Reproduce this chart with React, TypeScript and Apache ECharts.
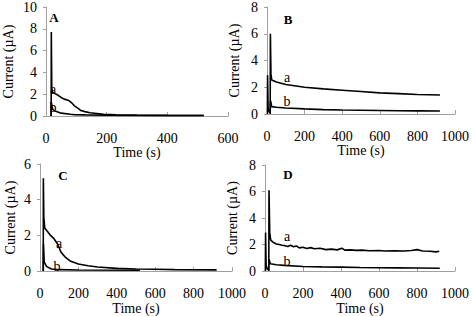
import React, { useEffect, useRef } from "react";
import * as echarts from "echarts";

const panelLetters = ["A", "B", "C", "D"];
const xMaxes = [600, 1000, 1000, 1000];
const yMaxes = [10, 8, 6, 8];

const aA: number[][] = [[17,0],[17.5,7.7],[19,2.6],[21,2.2],[30,2.05],[40,1.9],[50,1.7],[60,1.55],[73,1.45],[85,1.2],[95,0.9],[106,0.7],[115,0.5],[128,0.4],[145,0.3],[160,0.25],[190,0.15],[230,0.1],[300,0.08],[400,0.06],[520,0.05]];
const bA: number[][] = [[17,0],[18,1.2],[22,0.6],[30,0.45],[50,0.26],[80,0.16],[95,0.12],[130,0.1],[200,0.07],[300,0.05],[520,0.04]];

const aB: number[][] = [[17,0],[18,6.0],[21,3.0],[25,2.55],[50,2.4],[100,2.2],[200,2.0],[300,1.88],[400,1.78],[500,1.68],[600,1.58],[700,1.52],[800,1.46],[920,1.42]];
const bB: number[][] = [[2,0],[3,2.9],[6,0.4],[12,0.15],[17,0.1],[19,1.0],[25,0.55],[50,0.5],[100,0.45],[200,0.38],[300,0.33],[400,0.3],[500,0.28],[600,0.26],[700,0.24],[800,0.23],[920,0.22]];

const aC: number[][] = [[17,0],[17.5,5.2],[20,3.0],[25,2.4],[40,2.2],[55,2.0],[70,1.85],[90,1.55],[110,1.05],[130,0.8],[160,0.55],[200,0.4],[250,0.3],[300,0.23],[400,0.15],[500,0.12],[600,0.1],[700,0.08],[920,0.07]];
const bC: number[][] = [[17,0],[18,1.5],[22,0.5],[35,0.25],[60,0.12],[100,0.08],[200,0.06],[520,0.05]];

const aD: number[][] = [[20,0],[21,6.1],[25,2.9],[30,2.35],[40,2.2],[50,2.12],[60,2.05],[75,2.0],[90,1.95],[105,1.92],[120,1.85],[135,1.95],[150,1.84],[165,1.9],[180,1.75],[200,1.8],[220,1.7],[240,1.77],[260,1.68],[290,1.72],[320,1.62],[350,1.66],[380,1.6],[405,1.72],[420,1.58],[450,1.6],[480,1.56],[510,1.58],[550,1.54],[600,1.55],[630,1.52],[680,1.54],[730,1.52],[770,1.55],[800,1.62],[830,1.52],[870,1.5],[900,1.45],[917,1.5]];
const bD: number[][] = [[2,0],[3,2.9],[6,0.4],[12,0.15],[19,0.1],[21,0.9],[28,0.55],[60,0.48],[100,0.43],[200,0.35],[300,0.32],[400,0.3],[500,0.27],[600,0.25],[700,0.24],[800,0.23],[920,0.22]];

const seriesA = [aA, aB, aC, aD];
const seriesB = [bA, bB, bC, bD];

const grids = [
  { left: 38, top: 7, width: 190, height: 109 },
  { left: 267, top: 5, width: 190, height: 109 },
  { left: 40, top: 164, width: 192, height: 109 },
  { left: 265, top: 165, width: 192, height: 107 },
];
const yNameGaps = [31, 26, 23, 26];
const xNameGaps = [27, 27, 28, 29];
const letterPos = [[54, 17], [288, 19], [63, 175], [288, 174]];
const aPos = [[53, 89], [287, 77], [59, 243], [287, 236]];
const bPos = [[53, 107], [287, 101], [57, 266], [287, 261]];

const FONT = "'Liberation Serif', 'Times New Roman', serif";

export default function App() {
  const ref = useRef<HTMLDivElement>(null);
  useEffect(() => {
    if (!ref.current) return;
    const chart = echarts.init(ref.current, undefined, { renderer: "svg" });
    const axisLine = { lineStyle: { color: "#a0a0a0", width: 1 } };
    const xAxis = grids.map((_, i) => ({
      type: "value",
      gridIndex: i,
      min: 0,
      max: xMaxes[i],
      interval: 200,
      name: "Time (s)",
      nameLocation: "middle",
      nameGap: xNameGaps[i],
      nameTextStyle: { fontFamily: FONT, fontSize: 14, color: "#000" },
      axisLine,
      axisTick: { show: true, inside: true, length: 4, lineStyle: { color: "#a0a0a0" } },
      axisLabel: { fontFamily: FONT, fontSize: 14, color: "#000", margin: 15, formatter: (v: number) => String(v) },
      splitLine: { show: false },
    }));
    const yAxis = grids.map((_, i) => ({
      type: "value",
      gridIndex: i,
      min: 0,
      max: yMaxes[i],
      interval: 2,
      name: "Current (µA)",
      nameLocation: "middle",
      nameGap: yNameGaps[i],
      nameTextStyle: { fontFamily: FONT, fontSize: 14, color: "#000" },
      axisLine: { show: true, ...axisLine },
      axisTick: { show: true, inside: false, length: 3, lineStyle: { color: "#a0a0a0" } },
      axisLabel: { fontFamily: FONT, fontSize: 14, color: "#000", margin: 9, formatter: (v: number) => String(v) },
      splitLine: { show: false },
    }));
    const series: any[] = [];
    grids.forEach((_, i) => {
      [seriesA[i], seriesB[i]].forEach((d) => {
        series.push({
          type: "line",
          xAxisIndex: i,
          yAxisIndex: i,
          data: d,
          showSymbol: false,
          lineStyle: { color: "#000", width: 1.6 },
        });
      });
    });
    const graphic: any[] = [];
    const txt = (x: number, y: number, text: string, bold: boolean) => ({
      type: "text", x, y, z: 100,
      style: {
        text, fontFamily: FONT, fontSize: bold ? 13 : 14, fontWeight: bold ? "bold" : "normal",
        fill: "#000", align: "center", verticalAlign: "middle",
      },
    });
    grids.forEach((_, i) => {
      graphic.push(txt(letterPos[i][0], letterPos[i][1], panelLetters[i], true));
      graphic.push(txt(aPos[i][0], aPos[i][1], "a", false));
      graphic.push(txt(bPos[i][0], bPos[i][1], "b", false));
    });
    chart.setOption({
      animation: false,
      backgroundColor: "#fff",
      grid: grids.map((g) => ({ ...g, containLabel: false })),
      xAxis,
      yAxis,
      series,
      graphic,
    });
    return () => chart.dispose();
  }, []);
  return (
    <div
      ref={ref}
      style={{ position: "absolute", left: 0, top: 0, width: 472, height: 316 }}
    />
  );
}
